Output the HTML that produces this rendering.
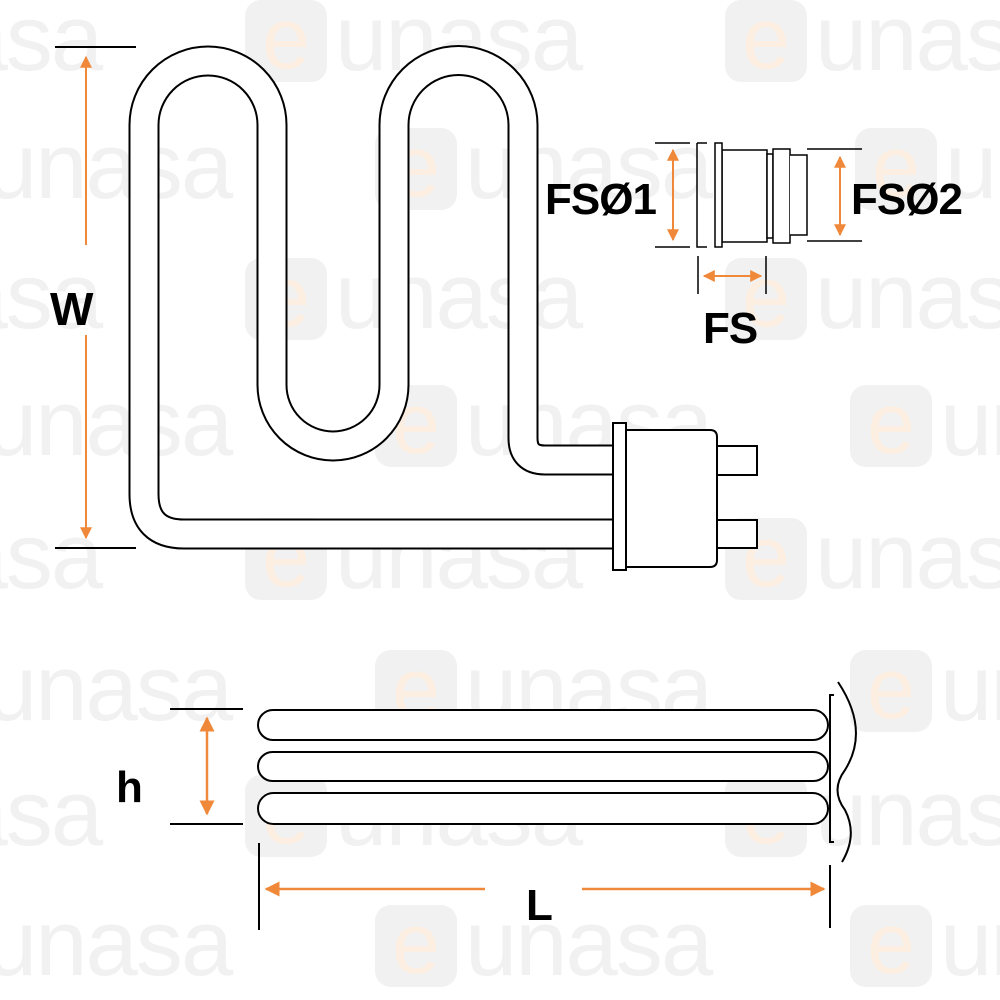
<!DOCTYPE html>
<html><head><meta charset="utf-8"><style>
html,body{margin:0;padding:0;background:#fff;width:1000px;height:1000px;overflow:hidden}
svg{display:block}
text{font-family:"Liberation Sans",sans-serif}
</style></head><body>
<svg width="1000" height="1000" viewBox="0 0 1000 1000" xmlns="http://www.w3.org/2000/svg">
<defs>
<g id="wm">
<rect x="0" y="0" width="82" height="82" rx="16" fill="#f1f1f1"/>
<text x="41" y="68" font-size="86" text-anchor="middle" fill="#fdeee2">e</text>
<text x="90" y="70" font-size="94" fill="#f1f1f1" letter-spacing="-2">unasa</text>
</g>
<marker id="ah" viewBox="0 0 10 10" refX="9" refY="5" markerWidth="6" markerHeight="6" orient="auto-start-reverse"><path d="M0 0L10 5L0 10z" fill="#f0883a"/></marker>
</defs>
<g>
<use href="#wm" x="-235" y="0"/><use href="#wm" x="245" y="0"/><use href="#wm" x="725" y="0"/>
<use href="#wm" x="-105" y="128"/><use href="#wm" x="375" y="128"/><use href="#wm" x="855" y="128"/>
<use href="#wm" x="-235" y="258"/><use href="#wm" x="245" y="258"/><use href="#wm" x="725" y="258"/>
<use href="#wm" x="-105" y="385"/><use href="#wm" x="375" y="385"/><use href="#wm" x="850" y="385"/>
<use href="#wm" x="-235" y="518"/><use href="#wm" x="245" y="518"/><use href="#wm" x="725" y="518"/>
<use href="#wm" x="-105" y="650"/><use href="#wm" x="375" y="650"/><use href="#wm" x="850" y="650"/>
<use href="#wm" x="-235" y="775"/><use href="#wm" x="245" y="775"/><use href="#wm" x="725" y="775"/>
<use href="#wm" x="-105" y="905"/><use href="#wm" x="375" y="905"/><use href="#wm" x="850" y="905"/>
</g>

<path d="M612 460 H545 Q523 460 523 438 V125 A64.5 64.5 0 0 0 394 125 V385 A61 61 0 0 1 272 385 V125 A64 64 0 0 0 144 125 V494 Q144 534 184 534 H612" fill="none" stroke="#000" stroke-width="31"/>
<path d="M612 460 H545 Q523 460 523 438 V125 A64.5 64.5 0 0 0 394 125 V385 A61 61 0 0 1 272 385 V125 A64 64 0 0 0 144 125 V494 Q144 534 184 534 H612" fill="none" stroke="#fff" stroke-width="27"/>
<g fill="#fff" stroke="#000" stroke-width="2">
<rect x="717" y="446" width="40" height="29"/>
<rect x="717" y="520" width="40" height="28"/>
<path d="M626 430 H710 Q717 430 717 437 V560 Q717 567 710 567 H626 Z"/>
<rect x="613" y="423" width="13" height="147"/>
</g>
<g stroke="#000" stroke-width="2"><line x1="55" y1="47" x2="136" y2="47"/><line x1="55" y1="548" x2="136" y2="548"/></g>
<g stroke="#f0883a" stroke-width="2" marker-end="url(#ah)">
<line x1="86" y1="245" x2="86" y2="57"/>
<line x1="86" y1="335" x2="86" y2="538"/>
</g>
<text x="50" y="325" font-size="46" font-weight="bold">W</text>

<g stroke="#000" stroke-width="1.5" fill="#fff">
<line x1="655" y1="143" x2="690" y2="143"/><line x1="655" y1="247" x2="690" y2="247"/>
<path d="M697 143 H707 M697 143 V247 H707" fill="none"/>
<rect x="722" y="150" width="45" height="92"/>
<rect x="767" y="154" width="6" height="84"/>
<rect x="773" y="149" width="17" height="94"/>
<path d="M790 155 H807 V235 H790" />
<rect x="715" y="143" width="7" height="104"/>
<line x1="807" y1="149" x2="862" y2="149"/><line x1="807" y1="241" x2="862" y2="241"/>
<line x1="698" y1="256" x2="698" y2="294"/><line x1="766" y1="256" x2="766" y2="294"/>
</g>
<g stroke="#f0883a" stroke-width="2" marker-start="url(#ah)" marker-end="url(#ah)">
<line x1="673" y1="150" x2="673" y2="240"/>
<line x1="840" y1="157" x2="840" y2="235"/>
<line x1="704" y1="276" x2="761" y2="276"/>
</g>
<text x="545" y="214" font-size="44" font-weight="bold" letter-spacing="-1">FSØ1</text>
<text x="851" y="214" font-size="44" font-weight="bold" letter-spacing="-1">FSØ2</text>
<text x="703" y="343" font-size="44" font-weight="bold" letter-spacing="-1">FS</text>

<g stroke="#000" stroke-width="2" fill="#fff">
<line x1="170" y1="709" x2="243" y2="709"/><line x1="170" y1="824" x2="243" y2="824"/>
<rect x="258" y="710" width="570" height="30" rx="15"/>
<rect x="258" y="752" width="570" height="29" rx="14.5"/>
<rect x="258" y="793" width="570" height="31" rx="15.5"/>
<path d="M834 695 H830 V842 H834" fill="none"/>
<path d="M838 682 Q870 730 845 770 Q830 790 845 810 Q858 835 842 862" fill="none"/>
<line x1="259" y1="843" x2="259" y2="930"/>
<line x1="830" y1="865" x2="830" y2="928"/>
</g>
<g stroke="#f0883a" stroke-width="2.5" marker-end="url(#ah)">
<line x1="207" y1="718" x2="207" y2="814" marker-start="url(#ah)"/>
<line x1="485" y1="889" x2="266" y2="889"/>
<line x1="582" y1="889" x2="824" y2="889"/>
</g>
<text x="116" y="802" font-size="44" font-weight="bold">h</text>
<text x="526" y="920" font-size="44" font-weight="bold">L</text>
</svg>
</body></html>
